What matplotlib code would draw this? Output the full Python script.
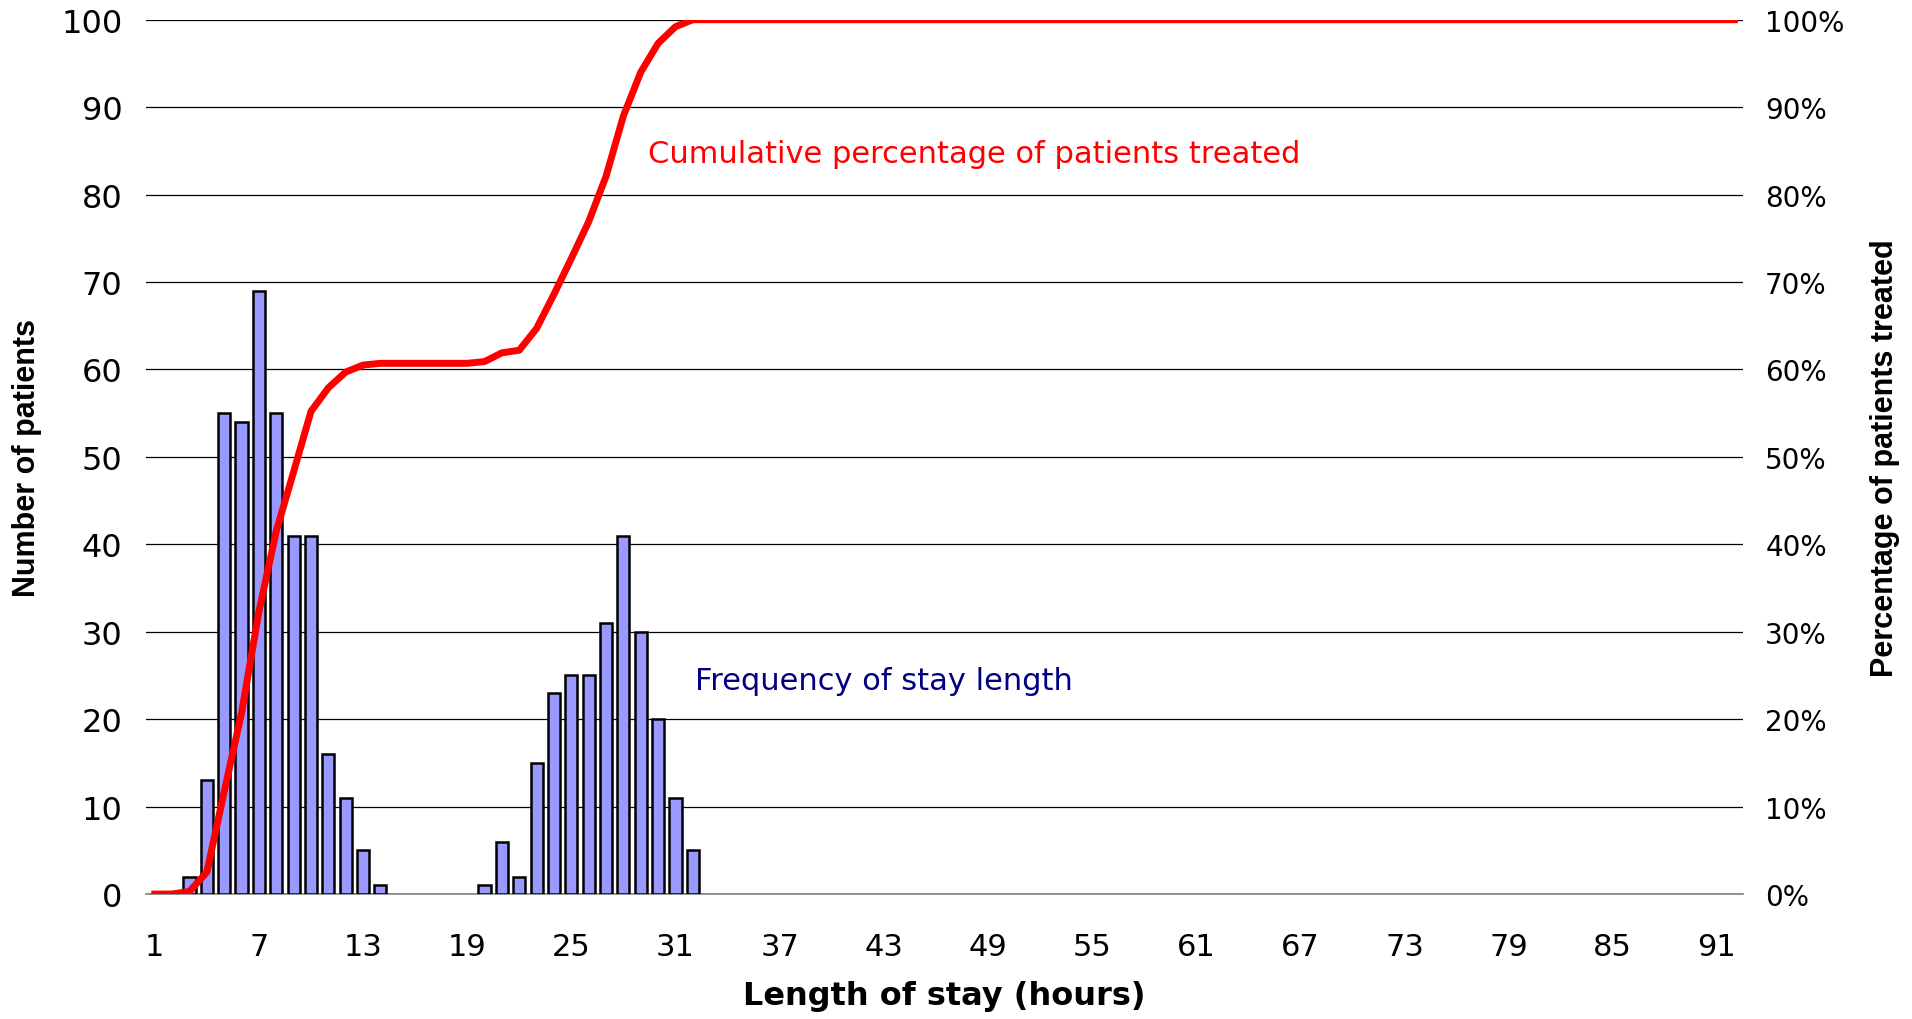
import matplotlib
matplotlib.use("Agg")
import matplotlib.pyplot as plt
from matplotlib.ticker import FuncFormatter

# length of stay in hours (categories 1..92)
horas = list(range(1, 93))

# number of patients per stay length
pacientes = [0, 0, 2, 13, 55, 54, 69, 55, 41, 41, 16, 11, 5, 1,
             0, 0, 0, 0, 0,
             1, 6, 2, 15, 23, 25, 25, 31, 41, 30, 20, 11, 5]
pacientes = pacientes + [0] * (len(horas) - len(pacientes))

# cumulative percentage of patients treated
acumulado = [0.0, 0.0, 0.3, 2.5, 11.7, 20.7, 32.3, 41.5, 48.3, 55.2, 57.9, 59.7, 60.5, 60.7,
             60.7, 60.7, 60.7, 60.7, 60.7,
             60.9, 61.9, 62.2, 64.7, 68.6, 72.7, 76.9, 82.1, 89.0, 94.0, 97.3, 99.2, 100.0]
acumulado = acumulado + [100.0] * (len(horas) - len(acumulado))

ticks_x = list(range(1, 92, 6))
ticks_y = list(range(0, 101, 10))

fig = plt.figure(figsize=(19.12, 10.2), dpi=100)
ax = fig.add_axes([0.0764, 0.1225, 0.8352, 0.8572])

# empty categories get no outline
bordes = ["black" if p > 0 else "none" for p in pacientes]
ax.bar(horas, pacientes, width=0.7, color="#9999FF", edgecolor=bordes, linewidth=1.8, zorder=3)
ax.set_xlim(0.5, 92.5)
ax.set_ylim(0, 100)
ax.set_xticks(ticks_x)
ax.set_yticks(ticks_y)
ax.tick_params(axis="x", length=0, pad=27, labelsize=22)
ax.tick_params(axis="y", length=0, pad=17, labelsize=23)
ax.yaxis.grid(True, color="black", linewidth=0.9, zorder=0)
for s in ["top", "left", "right"]:
    ax.spines[s].set_visible(False)
ax.spines["bottom"].set_color("#808080")
ax.spines["bottom"].set_linewidth(1.2)

ax.set_xlabel("Length of stay (hours)", fontsize=23, fontweight="bold", labelpad=14)
ax.set_ylabel("Number of patients", fontsize=22, fontweight="bold", family="Liberation Sans", labelpad=14)

ax2 = ax.twinx()
ax2.plot(horas, acumulado, color="red", linewidth=5, zorder=4, solid_joinstyle="round")
ax2.set_ylim(0, 100)
ax2.set_yticks(ticks_y)
ax2.yaxis.set_major_formatter(FuncFormatter(lambda v, p: f"{int(v)}%"))
ax2.tick_params(axis="y", length=0, pad=16, labelsize=20)
for s in ["top", "left", "right", "bottom"]:
    ax2.spines[s].set_visible(False)
ax2.set_ylabel("Percentage of patients treated", fontsize=22, fontweight="bold",
               family="Liberation Sans", labelpad=18)

ax.text(29.4, 84.7, "Cumulative percentage of patients treated", color="red",
        fontsize=22, va="center", ha="left", zorder=5)
ax.text(32.1, 24.4, "Frequency of stay length", color="#000080",
        fontsize=22, va="center", ha="left", zorder=5)

fig.savefig("out.png", dpi=100)
